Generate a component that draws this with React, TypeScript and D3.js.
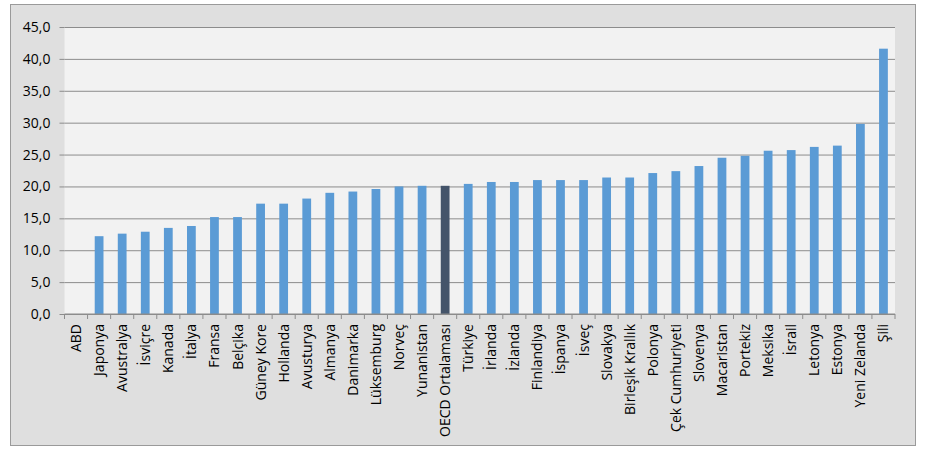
import { useEffect, useRef } from 'react';
import * as d3 from 'd3';

const countries = [
  'ABD', 'Japonya', 'Avustralya', 'İsviçre', 'Kanada', 'İtalya', 'Fransa', 'Belçika',
  'Güney Kore', 'Hollanda', 'Avusturya', 'Almanya', 'Danimarka', 'Lüksemburg', 'Norveç',
  'Yunanistan', 'OECD Ortalaması', 'Türkiye', 'İrlanda', 'İzlanda', 'Finlandiya', 'İspanya',
  'İsveç', 'Slovakya', 'Birleşik Krallık', 'Polonya', 'Çek Cumhuriyeti', 'Slovenya',
  'Macaristan', 'Portekiz', 'Meksika', 'İsrail', 'Letonya', 'Estonya', 'Yeni Zelanda', 'Şili'
];

const values = [
  0, 12.2, 12.6, 12.9, 13.5, 13.8, 15.2, 15.2,
  17.3, 17.3, 18.1, 19.0, 19.2, 19.6, 20.0,
  20.1, 20.1, 20.4, 20.7, 20.7, 21.0, 21.0,
  21.0, 21.4, 21.4, 22.1, 22.4, 23.2,
  24.5, 24.8, 25.6, 25.7, 26.2, 26.4, 29.8, 41.6
];

const yTicks = [0, 5, 10, 15, 20, 25, 30, 35, 40, 45];

const highlight = 'OECD Ortalaması';

export default function App() {
  const chartRef = useRef<SVGSVGElement | null>(null);

  useEffect(() => {
    document.body.style.margin = '0';
    if (!chartRef.current) return;
    const svg = d3.select(chartRef.current);
    svg.selectAll('*').remove();

    const width = 927;
    const height = 455;
    const margin = { top: 27, right: 32, bottom: 141, left: 64.5 };
    const innerWidth = width - margin.left - margin.right;
    const innerHeight = height - margin.top - margin.bottom;
    const font = 'Open Sans, Noto Sans, sans-serif';

    // Outer chart box
    svg.append('rect')
      .attr('x', 10.5)
      .attr('y', 4.5)
      .attr('width', 905)
      .attr('height', 441)
      .attr('fill', '#dfdfdf')
      .attr('stroke', '#9a9a9a')
      .attr('stroke-width', 1);

    const g = svg.append('g').attr('transform', `translate(${margin.left}, ${margin.top})`);

    // Plot area
    g.append('rect')
      .attr('width', innerWidth)
      .attr('height', innerHeight)
      .attr('fill', '#f2f2f2');

    const xScale = d3.scaleBand<string>()
      .domain(countries)
      .range([0, innerWidth])
      .paddingInner(0.62)
      .paddingOuter(0.31);

    const yScale = d3.scaleLinear().domain([0, 45]).range([innerHeight, 0]);

    // Grid lines
    g.append('g')
      .call(d3.axisLeft(yScale).tickValues(yTicks).tickSize(-innerWidth).tickFormat(() => ''))
      .call((a) => a.select('.domain').remove())
      .selectAll('.tick line')
      .attr('stroke', '#8c8c8c');

    // Y axis labels and ticks
    g.append('g')
      .call(
        d3.axisLeft(yScale)
          .tickValues(yTicks)
          .tickSize(5)
          .tickPadding(9)
          .tickFormat((d) => d3.format('.1f')(d as number).replace('.', ','))
      )
      .call((a) => a.select('.domain').remove())
      .call((a) => a.selectAll('.tick line').attr('stroke', '#8c8c8c'))
      .selectAll('text')
      .style('font-family', font)
      .style('font-size', '14px')
      .style('fill', '#000');

    // Bars
    g.selectAll('.bar')
      .data(countries)
      .enter()
      .append('rect')
      .attr('class', 'bar')
      .attr('x', (d) => xScale(d) as number)
      .attr('width', xScale.bandwidth())
      .attr('y', (_, i) => yScale(values[i]))
      .attr('height', (_, i) => innerHeight - yScale(values[i]))
      .attr('fill', (d) => (d === highlight ? '#44546a' : '#5b9bd5'));

    // X axis: ticks between categories
    const step = xScale.step();
    const xAxis = g.append('g').attr('transform', `translate(0, ${innerHeight})`);
    xAxis.append('line')
      .attr('x1', 0)
      .attr('x2', innerWidth)
      .attr('stroke', '#8c8c8c');
    xAxis.selectAll('.xt')
      .data(d3.range(countries.length + 1))
      .enter()
      .append('line')
      .attr('class', 'xt')
      .attr('x1', (i) => Math.min(i * step, innerWidth))
      .attr('x2', (i) => Math.min(i * step, innerWidth))
      .attr('y1', 0)
      .attr('y2', 5)
      .attr('stroke', '#8c8c8c');

    xAxis.selectAll('.xl')
      .data(countries)
      .enter()
      .append('text')
      .attr('class', 'xl')
      .attr('transform', (d) => `translate(${(xScale(d) as number) + xScale.bandwidth() / 2 + 5}, 10) rotate(-90)`)
      .attr('text-anchor', 'end')
      .style('font-family', font)
      .style('font-size', '14px')
      .style('fill', '#000')
      .text((d) => d);
  }, []);

  return <svg ref={chartRef} width={927} height={455} style={{ display: 'block' }} />;
}
